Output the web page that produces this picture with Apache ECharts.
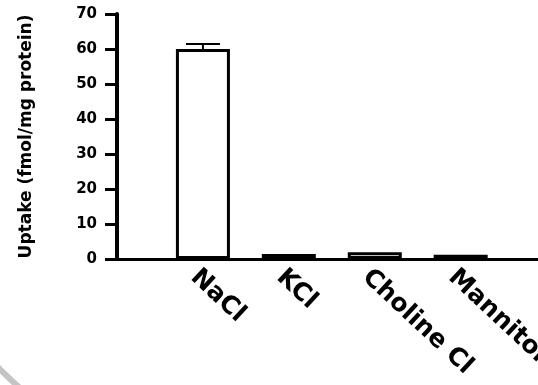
<!DOCTYPE html>
<html>
<head>
<meta charset="utf-8">
<script src="https://cdn.jsdelivr.net/npm/echarts@6/dist/echarts.min.js"></script>
<style>
  html, body { margin: 0; padding: 0; background: #fff; }
  #chart { width: 538px; height: 385px; }
</style>
</head>
<body>
<div id="chart"></div>
<script>
var categories = ['NaCl', 'KCl', 'Choline Cl', 'Mannitol'];
var uptake = [60, 1.4, 1.9, 1.2];
var sem = [1.4, 0, 0, 0];
var yTicks = { min: 0, max: 70, step: 10 };

var myChart = echarts.init(document.getElementById('chart'));

var barData = uptake.map(function (v, i) { return [i, v]; });
var errData = uptake.map(function (v, i) { return [i, v, sem[i]]; });
var font = 'DejaVu Sans';

var option = {
  animation: false,
  backgroundColor: '#fff',
  grid: { left: 117, right: 0, top: 14, bottom: 126, containLabel: false, outerBoundsMode: 'none' },
  xAxis: {
    type: 'value',
    min: -1,
    max: 3.9,
    interval: 1,
    splitLine: { show: false },
    axisTick: { show: false },
    axisLine: { onZero: false, lineStyle: { color: '#000', width: 3 } },
    axisLabel: {
      rotate: -43,
      margin: 23,
      padding: [0, 0, 0, -12],
      color: '#000',
      fontFamily: font,
      fontWeight: 'bold',
      fontSize: 25,
      showMaxLabel: false,
      formatter: function (v) { return categories[v] || ''; }
    }
  },
  yAxis: {
    type: 'value',
    min: yTicks.min,
    max: yTicks.max,
    interval: yTicks.step,
    name: 'Uptake (fmol/mg protein)',
    nameLocation: 'middle',
    nameGap: 82,
    nameTextStyle: { color: '#000', fontFamily: font, fontWeight: 'bold', fontSize: 17 },
    splitLine: { show: false },
    axisLine: { onZero: false, lineStyle: { color: '#000', width: 4 } },
    axisTick: { length: 12, lineStyle: { color: '#000', width: 3 } },
    axisLabel: { margin: 20, color: '#000', fontFamily: font, fontWeight: 'bold', fontSize: 15 }
  },
  graphic: [{
    type: 'arc',
    silent: true,
    shape: { cx: 215, cy: 160, r: 300, startAngle: Math.PI * 0.6, endAngle: Math.PI * 0.9 },
    style: { stroke: '#c4c4c4', lineWidth: 6, fill: null }
  }],
  series: [
    {
      type: 'bar',
      data: barData,
      barWidth: 54,
      itemStyle: { color: '#fff', borderColor: '#000', borderWidth: 3 }
    },
    {
      type: 'custom',
      data: errData,
      z: 3,
      renderItem: function (params, api) {
        var i = api.value(0), v = api.value(1), e = api.value(2);
        if (!e) return null;
        var top = api.coord([i, v + e]);
        var base = api.coord([i, v]);
        var half = 17;
        return {
          type: 'group',
          children: [
            { type: 'line', shape: { x1: top[0], y1: top[1], x2: base[0], y2: base[1] }, style: { stroke: '#000', lineWidth: 2 } },
            { type: 'line', shape: { x1: top[0] - half, y1: top[1], x2: top[0] + half, y2: top[1] }, style: { stroke: '#000', lineWidth: 2 } }
          ]
        };
      }
    }
  ]
};

myChart.setOption(option);
</script>
</body>
</html>
